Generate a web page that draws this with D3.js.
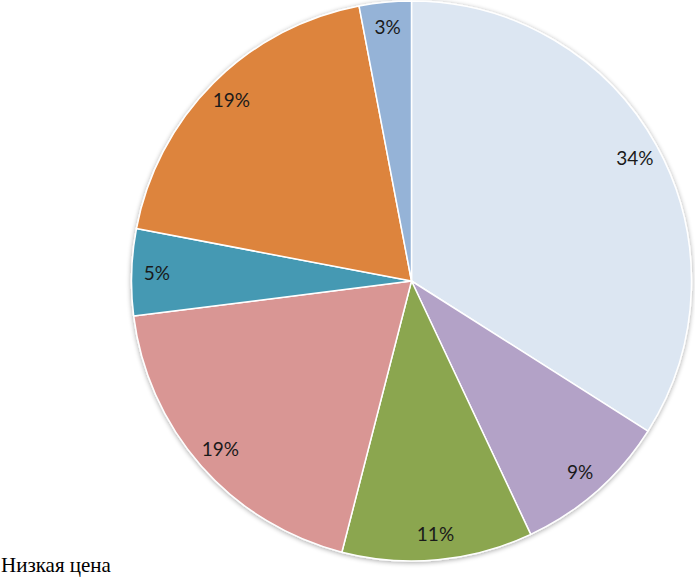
<!DOCTYPE html>
<html><head><meta charset="utf-8">
<script src="https://cdn.jsdelivr.net/npm/d3@7"></script>
<style>body{margin:0;background:#fff;}svg{display:block;}</style>
</head><body>
<svg id="c" width="695" height="577"></svg>
<script>
const categories = ["A","B","C","D","E","F","G"];
const values = [34, 9, 11, 19, 5, 19, 3];
const colors = ["#dce6f2","#b3a2c7","#8ba650","#d99694","#4599b3","#dd843c","#95b3d7"];
const footerText = "Низкая цена";

const svg = d3.select("#c");
const cx = 411.5, cy = 281, r = 280;
const defs = svg.append("defs");
const f = defs.append("filter").attr("id","sh").attr("x","-10%").attr("y","-10%").attr("width","120%").attr("height","120%");
f.append("feGaussianBlur").attr("in","SourceAlpha").attr("stdDeviation",2.5).attr("result","b");
f.append("feOffset").attr("in","b").attr("dx",0).attr("dy",1).attr("result","o");
f.append("feComponentTransfer").attr("in","o").attr("result","o2").append("feFuncA").attr("type","linear").attr("slope",0.35);
const m = f.append("feMerge"); m.append("feMergeNode").attr("in","o2"); m.append("feMergeNode").attr("in","SourceGraphic");

const pie = d3.pie().sort(null).value(d=>d)(values);
const arc = d3.arc().innerRadius(0).outerRadius(r);
const g = svg.append("g").attr("transform",`translate(${cx},${cy})`);
g.append("g").attr("filter","url(#sh)").selectAll("path").data(pie).join("path")
  .attr("d",arc).attr("fill",(d,i)=>colors[i]).attr("stroke","#fff").attr("stroke-width",1.5).attr("stroke-linejoin","round");
const lab = d3.arc().innerRadius(r*0.91).outerRadius(r*0.91);
g.selectAll("text").data(pie).join("text")
  .attr("transform",d=>`translate(${lab.centroid(d)})`)
  .attr("text-anchor","middle").attr("dy","0.35em")
  .attr("font-family","Lato, 'Open Sans', sans-serif").attr("font-size",19).attr("fill","#1a1a1a")
  .text(d=>d.data+"%");
svg.append("text").attr("x",1).attr("y",572).attr("font-family","'Liberation Serif', 'Times New Roman', serif")
  .attr("font-size",21).attr("fill","#000").text(footerText);
</script>
</body></html>
